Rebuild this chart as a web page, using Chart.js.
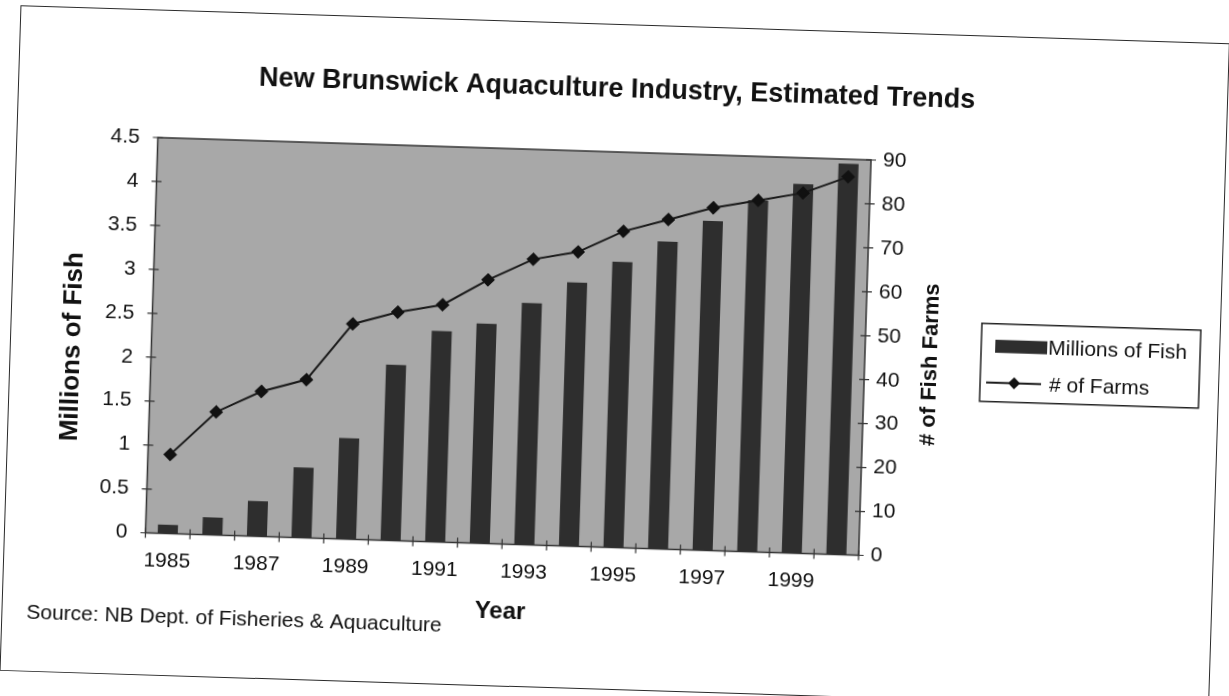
<!DOCTYPE html>
<html>
<head>
<meta charset="utf-8">
<script src="https://cdn.jsdelivr.net/npm/chart.js@4.4.1/dist/chart.umd.min.js"></script>
<style>
    html, body { margin: 0; padding: 0; background: #fff; overflow: hidden; }
    #page { position: relative; width: 1229px; height: 696px; transform: rotate(1.8deg); transform-origin: 50% 50%; }
    #frame { position: absolute; left: 10px; top: 24px; width: 1210px; height: 666px; border: 1.5px solid #2a2a2a; box-sizing: border-box; }
    canvas { position: absolute; left: 0; top: 0; }
</style>
</head>
<body>
<div id="page">
    <div id="frame"></div>
    <canvas id="fishChart" width="1229" height="696"></canvas>
</div>
<script>
    const years = ['1985', '1986', '1987', '1988', '1989', '1990', '1991', '1992',
                   '1993', '1994', '1995', '1996', '1997', '1998', '1999', '2000'];
    const millionsOfFish = [0.1, 0.2, 0.4, 0.8, 1.15, 2.0, 2.4, 2.5, 2.75, 3.0, 3.25, 3.5, 3.75, 4.0, 4.2, 4.45];
    const fishFarms = [18, 28, 33, 36, 49, 52, 54, 60, 65, 67, 72, 75, 78, 80, 82, 86];
    const leftAxisMax = 4.5, leftAxisStep = 0.5;
    const rightAxisMax = 90, rightAxisStep = 10;

    const FONT = '"Liberation Sans", Arial, Helvetica, sans-serif';
    Chart.defaults.font.family = FONT;
    Chart.defaults.color = '#111';

    function sideTitle(ctx, text, size, x, y) {
        ctx.save();
        ctx.font = 'bold ' + size + 'px ' + FONT;
        ctx.fillStyle = '#111';
        ctx.textAlign = 'center';
        ctx.textBaseline = 'middle';
        ctx.translate(x, y);
        ctx.rotate(-Math.PI / 2);
        ctx.fillText(text, 0, 0);
        ctx.restore();
    }

    // gray plot area, dark frame and the little cross ticks Excel draws
    const plotFrame = {
        id: 'plotFrame',
        beforeDraw(chart) {
            const {ctx, chartArea: ca} = chart;
            ctx.save();
            ctx.fillStyle = '#a8a8a8';
            ctx.fillRect(ca.left, ca.top, ca.right - ca.left, ca.bottom - ca.top);
            ctx.restore();
        },
        afterDatasetsDraw(chart) {
            const {ctx, chartArea: ca, scales} = chart;
            ctx.save();
            ctx.strokeStyle = '#333';
            ctx.lineWidth = 1.5;
            ctx.strokeRect(ca.left, ca.top, ca.right - ca.left, ca.bottom - ca.top);
            ctx.lineWidth = 1.2;
            ctx.beginPath();
            scales.y.ticks.forEach(t => {
                const py = scales.y.getPixelForValue(t.value);
                ctx.moveTo(ca.left - 5, py); ctx.lineTo(ca.left + 5, py);
            });
            scales.y1.ticks.forEach(t => {
                const py = scales.y1.getPixelForValue(t.value);
                ctx.moveTo(ca.right - 5, py); ctx.lineTo(ca.right + 5, py);
            });
            const half = (scales.x.getPixelForValue(1) - scales.x.getPixelForValue(0)) / 2;
            for (let i = 0; i <= years.length; i++) {
                const px = scales.x.getPixelForValue(i) - half;
                ctx.moveTo(px, ca.bottom - 5); ctx.lineTo(px, ca.bottom + 5);
            }
            ctx.stroke();
            ctx.restore();
        },
        afterDraw(chart) {
            const {ctx, chartArea: ca} = chart;
            const bars = chart.data.datasets[0], line = chart.data.datasets[1];
            const midY = (ca.top + ca.bottom) / 2;

            // axis titles, both read bottom to top
            sideTitle(ctx, 'Millions of Fish', 26, ca.left - 79, midY + 14);
            sideTitle(ctx, '# of Fish Farms', 22, ca.right + 66, midY + 5);

            ctx.save();
            // legend
            const lx = ca.right + 116, ly = midY - 38;
            ctx.strokeStyle = '#222';
            ctx.lineWidth = 1.5;
            ctx.strokeRect(lx, ly, 219, 78);
            ctx.fillStyle = bars.backgroundColor;
            ctx.fillRect(lx + 14, ly + 16, 52, 13);
            ctx.font = '21px ' + FONT;
            ctx.fillStyle = '#111';
            ctx.textAlign = 'left';
            ctx.textBaseline = 'middle';
            ctx.fillText(bars.label, lx + 67, ly + 23);
            ctx.strokeStyle = line.borderColor;
            ctx.lineWidth = 2;
            ctx.beginPath();
            ctx.moveTo(lx + 6, ly + 59); ctx.lineTo(lx + 61, ly + 59);
            ctx.stroke();
            ctx.fillStyle = line.pointBackgroundColor;
            ctx.beginPath();
            ctx.moveTo(lx + 34, ly + 53); ctx.lineTo(lx + 40, ly + 59);
            ctx.lineTo(lx + 34, ly + 65); ctx.lineTo(lx + 28, ly + 59);
            ctx.closePath(); ctx.fill();
            ctx.fillStyle = '#111';
            ctx.fillText(line.label, lx + 69, ly + 60);

            // source note
            ctx.fillText('Source: NB Dept. of Fisheries & Aquaculture', 35, 631);
            ctx.restore();
        }
    };

    const ctx = document.getElementById('fishChart').getContext('2d');

    const fishChart = new Chart(ctx, {
        type: 'bar',
        data: {
            labels: years,
            datasets: [{
                type: 'bar',
                label: 'Millions of Fish',
                data: millionsOfFish,
                backgroundColor: '#2e2e2e',
                barPercentage: 0.45,
                categoryPercentage: 1,
                yAxisID: 'y',
                order: 2
            }, {
                type: 'line',
                label: '# of Farms',
                data: fishFarms,
                borderColor: '#1a1a1a',
                borderWidth: 2,
                pointStyle: 'rectRot',
                pointRadius: 5.5,
                pointBackgroundColor: '#111',
                pointBorderColor: '#111',
                tension: 0,
                yAxisID: 'y1',
                order: 1
            }]
        },
        options: {
            responsive: false,
            animation: false,
            layout: { padding: { left: 40, right: 51, top: 24, bottom: 62.6 } },
            plugins: {
                legend: { display: false },
                tooltip: { enabled: false },
                title: {
                    display: true,
                    text: 'New Brunswick Aquaculture Industry, Estimated Trends',
                    font: { size: 27, weight: 'bold' },
                    color: '#111',
                    padding: { top: 49.5, bottom: 46.1 }
                }
            },
            scales: {
                x: {
                    offset: true,
                    grid: { display: false, drawTicks: false },
                    border: { display: false },
                    ticks: {
                        autoSkip: false,
                        maxRotation: 0,
                        padding: 15,
                        font: { size: 21 },
                        callback: (v, i) => (i % 2 === 0 ? years[i] : '')
                    },
                    title: { display: true, text: 'Year', font: { size: 24, weight: 'bold' }, padding: { top: 4, bottom: 4 } },
                    afterFit(s) { s.height = 85.9; }
                },
                y: {
                    position: 'left',
                    min: 0,
                    max: leftAxisMax,
                    grid: { display: false, drawTicks: false },
                    border: { display: false },
                    ticks: { stepSize: leftAxisStep, padding: 18, font: { size: 21 }, callback: v => String(v) },
                    afterFit(s) { s.width = 111.5; }
                },
                y1: {
                    position: 'right',
                    min: 0,
                    max: rightAxisMax,
                    grid: { display: false, drawTicks: false },
                    border: { display: false },
                    ticks: { stepSize: rightAxisStep, padding: 12, font: { size: 21 } },
                    afterFit(s) { s.width = 313; }
                }
            }
        },
        plugins: [plotFrame]
    });
</script>
</body>
</html>
